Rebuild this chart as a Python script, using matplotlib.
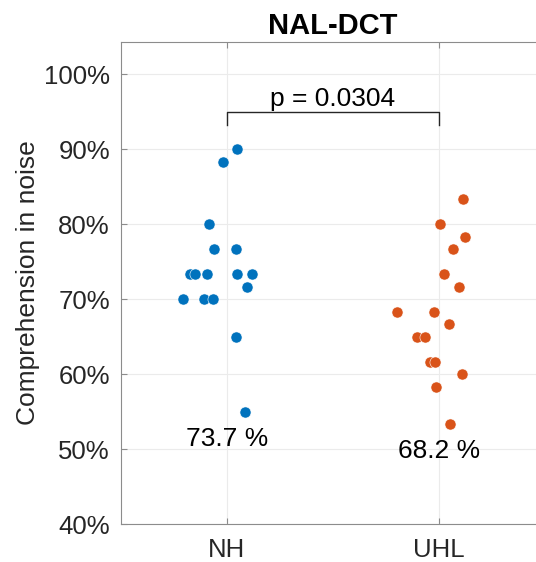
import matplotlib.pyplot as plt
import numpy as np
from matplotlib.ticker import FuncFormatter

plt.rcParams['font.family'] = ['Liberation Sans', 'DejaVu Sans']

groups = ['NH', 'UHL']
group_colors = ['#0072BD', '#D95319']

# comprehension scores (%) and horizontal jitter
nh_scores = [90.0, 88.33, 80.0, 76.67, 76.67, 73.33, 73.33, 73.33, 73.33, 73.33,
             71.67, 70.0, 70.0, 70.0, 65.0, 55.0]
nh_jitter = [0.049, -0.017, -0.086, -0.060, 0.044, -0.175, -0.151, -0.096, 0.047, 0.119,
             0.096, -0.206, -0.108, -0.065, 0.042, 0.085]
uhl_scores = [83.33, 80.0, 78.33, 76.67, 73.33, 71.67, 68.33, 68.33, 66.67, 65.0,
              65.0, 61.67, 61.67, 60.0, 58.33, 53.33]
uhl_jitter = [0.113, 0.005, 0.121, 0.066, 0.022, 0.093, -0.197, -0.022, 0.046, -0.105,
              -0.066, -0.044, -0.017, 0.110, -0.014, 0.052]
p_value = 0.0304

scores = [np.array(nh_scores), np.array(uhl_scores)]
jitter = [np.array(nh_jitter), np.array(uhl_jitter)]

fig = plt.figure(figsize=(5.36, 5.62), dpi=100)
# axes runs past the right edge of the figure, as in the cropped original
ax = fig.add_axes([121 / 536, 38 / 562, 424 / 536, 482 / 562])

for i, (vals, jit, color) in enumerate(zip(scores, jitter, group_colors)):
    pos = i + 1
    ax.scatter(pos + jit, vals, s=64, color=color, edgecolors='white', linewidths=0.4, zorder=3)
    ax.text(pos, vals.min() - 2, f'{vals.mean():.1f} %', ha='center', va='top',
            fontsize=19, color='black')

# significance bracket
top = 95.0
ax.plot([1, 1, 2, 2], [top - 1.8, top, top, top - 1.8], color='#262626', lw=1.0, zorder=4)
ax.text(1.5, top + 0.8, f'p = {p_value:.4f}', ha='center', va='baseline', fontsize=19)

ax.set_xlim(0.5, 2.5)
ax.set_ylim(40, 104.3)
ax.set_xticks([1, 2])
ax.set_xticklabels(groups)
ax.set_yticks(np.arange(40, 101, 10))
ax.yaxis.set_major_formatter(FuncFormatter(lambda v, _: f'{int(v)}%'))

ax.grid(True, color='#ebebeb', lw=0.8, zorder=0)
ax.set_axisbelow(True)
for side in ['left', 'bottom', 'top']:
    ax.spines[side].set_color('#8c8c8c')
    ax.spines[side].set_linewidth(0.8)
ax.spines['right'].set_visible(False)
ax.tick_params(direction='in', length=4, width=0.8, color='#8c8c8c', labelcolor='#262626',
               labelsize=18.5, top=True)
ax.tick_params(axis='x', pad=10)
ax.tick_params(axis='y', pad=8)

ax.set_ylabel('Comprehension in noise', fontsize=19, color='#262626', labelpad=3)
ax.set_title('NAL-DCT', fontsize=21, fontweight='bold', pad=6)

fig.savefig('out.png', dpi=100)
